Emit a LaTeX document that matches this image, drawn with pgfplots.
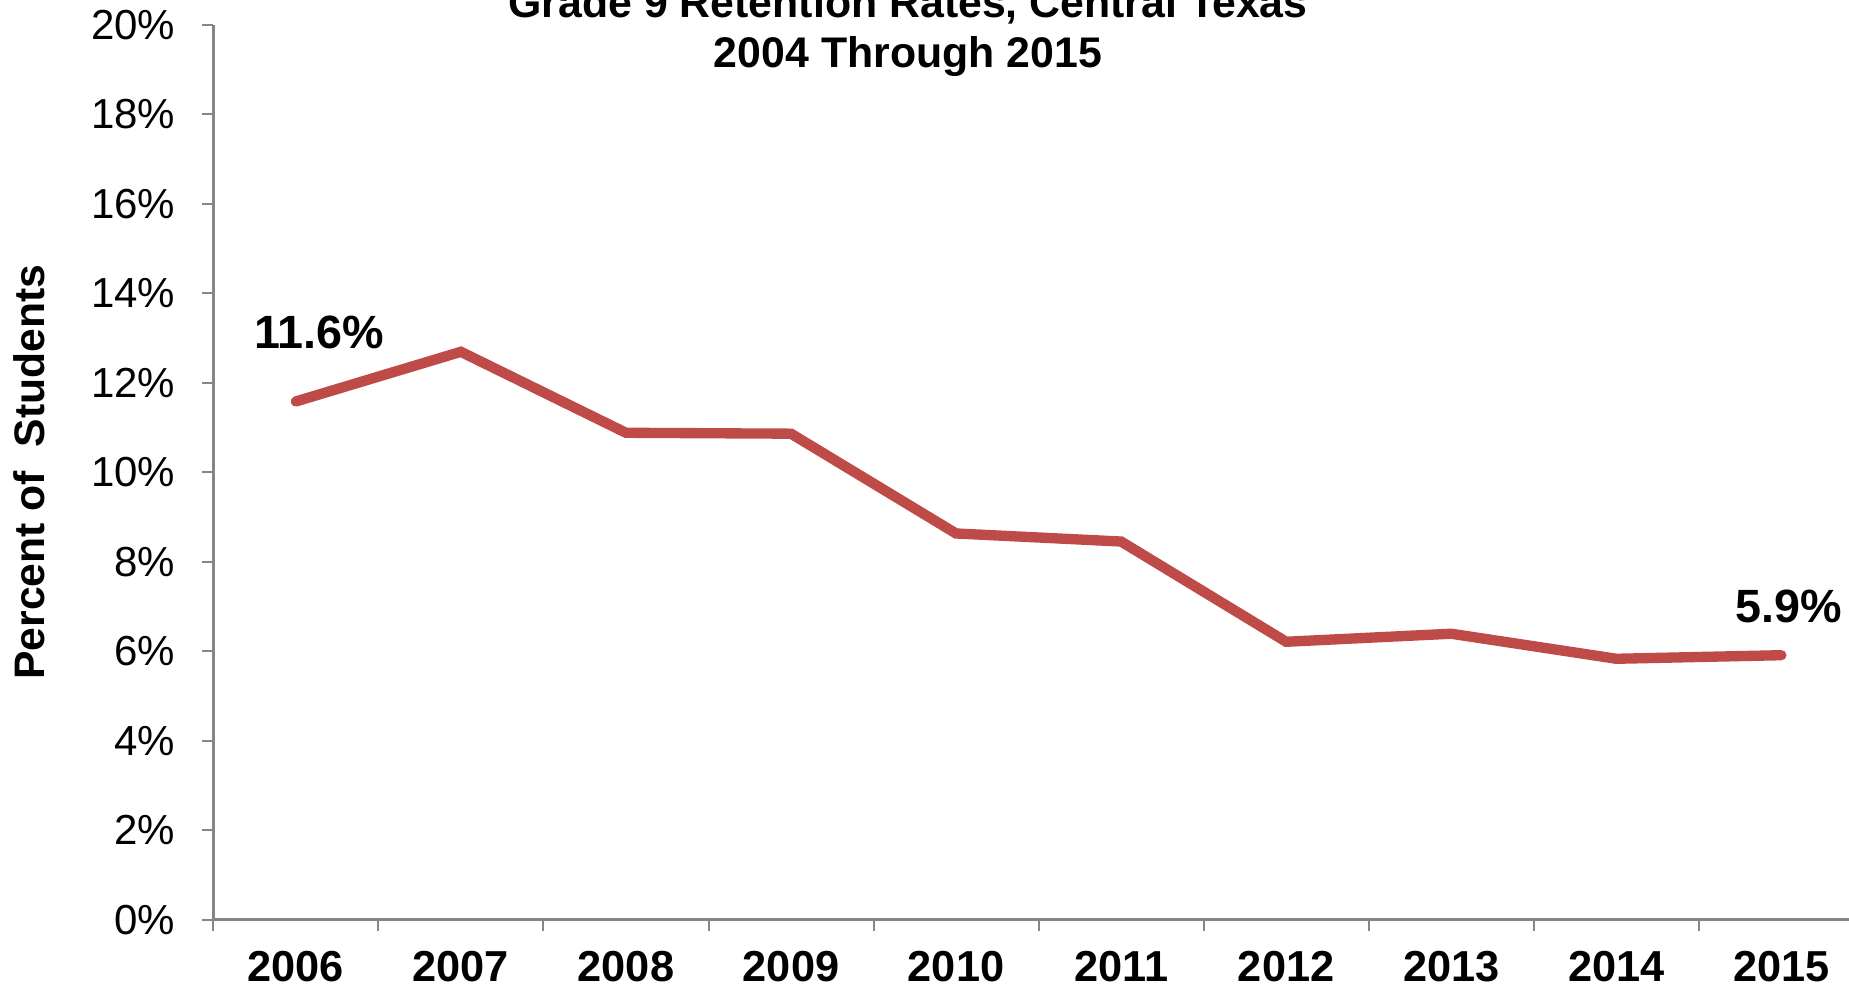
\documentclass[border=0pt]{standalone}
\usepackage{pgfplots}
\pgfplotsset{compat=1.18}
\usepackage{fontspec}
\setmainfont{Liberation Sans}
\definecolor{linered}{HTML}{BE4B48}
\definecolor{axgray}{HTML}{868686}
\begin{document}
\begin{tikzpicture}
\begin{axis}[
  scale only axis, width=490.7pt, height=268.5pt,
  at={(0,0)}, anchor=south west,
  xmin=-0.5, xmax=9.41, ymin=0, ymax=20,
  axis x line*=bottom, axis y line*=left,
  axis line style={axgray, line width=0.8pt, -},
  tick align=outside,
  major tick length=3.4pt,
  tick style={axgray, line width=0.6pt},
  xtick={-0.5,0.5,...,8.5}, xticklabels={},
  extra x ticks={0,1,2,3,4,5,6,7,8,9},
  extra x tick labels={2006,2007,2008,2009,2010,2011,2012,2013,2014,2015},
  extra x tick style={major tick length=0pt, tick style={draw=none},
    xticklabel style={font=\fontsize{13}{15}\selectfont\bfseries, yshift=-6pt}},
  ytick={0,2,4,6,8,10,12,14,16,18,20},
  yticklabels={0\%,2\%,4\%,6\%,8\%,10\%,12\%,14\%,16\%,18\%,20\%},
  yticklabel style={font=\fontsize{12.6}{14}\selectfont, xshift=-4.5pt},
  clip=false,
]
\addplot[linered, line width=3.1pt, line cap=round] coordinates {
(0,11.58) (1,12.69) (2,10.88) (3,10.86) (4,8.63) (5,8.45) (6,6.21) (7,6.39) (8,5.83) (9,5.91)};
\node[anchor=base, font=\fontsize{14}{16}\selectfont\bfseries, yshift=15.9pt] at (axis cs:0.143,11.58) {11.6\%};
\node[anchor=base, font=\fontsize{14}{16}\selectfont\bfseries, yshift=9.9pt] at (axis cs:9.043,5.91) {5.9\%};
\end{axis}
\node[anchor=base, font=\fontsize{12.85}{15}\selectfont\bfseries] at (208.4pt,270.5pt) {Grade 9 Retention Rates, Central Texas};
\node[anchor=base, font=\fontsize{12.85}{15}\selectfont\bfseries] at (208.4pt,255.5pt) {2004 Through 2015};
\node[rotate=90, font=\fontsize{12.8}{15}\selectfont\bfseries] at (-55.2pt,134.25pt) {Percent of\ \ Students};
\pgfresetboundingbox
\useasboundingbox (-64pt,-21.9pt) rectangle (490.7pt,275.9pt);
\end{tikzpicture}
\end{document}
